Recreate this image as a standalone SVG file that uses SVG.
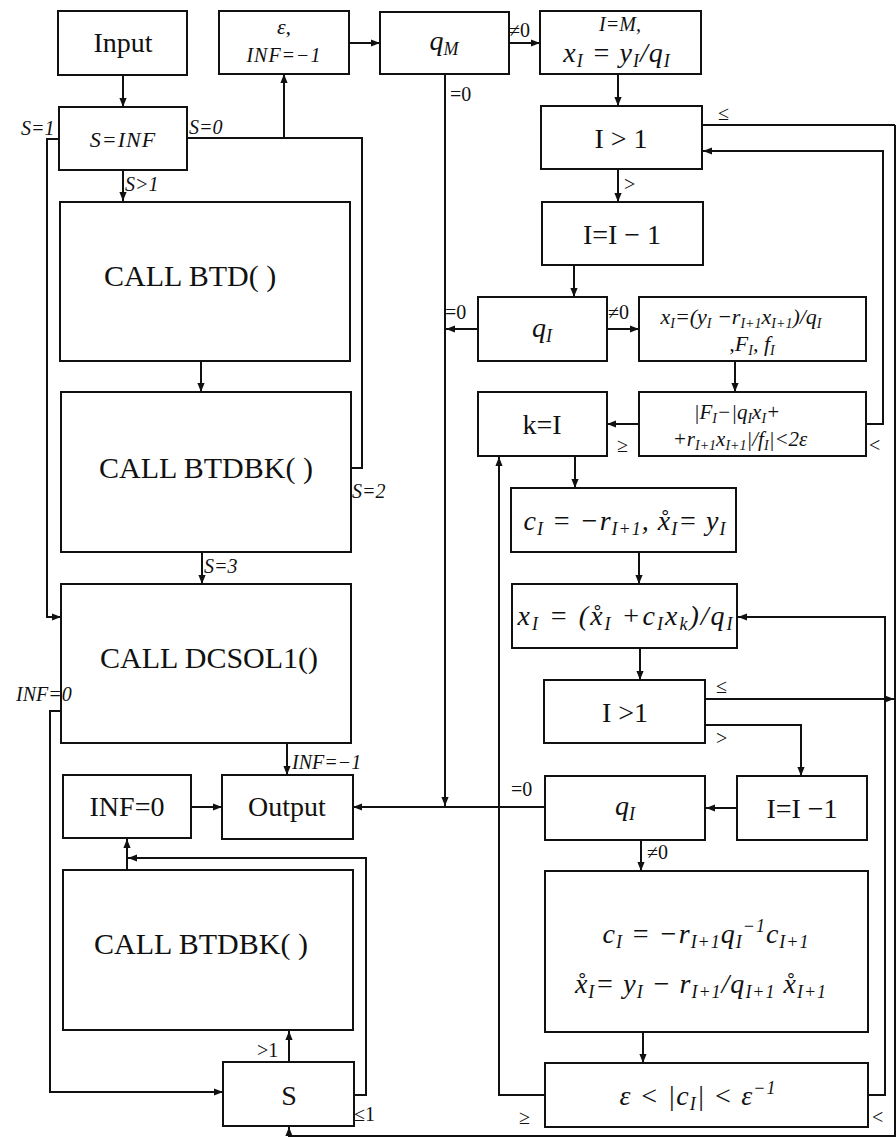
<svg xmlns="http://www.w3.org/2000/svg" width="896" height="1139" viewBox="0 0 896 1139" font-family="'Liberation Serif', 'DejaVu Serif', serif">
<defs>
<marker id="ah" viewBox="0 0 10 10" refX="10" refY="5" markerWidth="9" markerHeight="9" markerUnits="userSpaceOnUse" orient="auto">
<path d="M0,1 L10,5 L0,9 z" fill="#111"/>
</marker>
<style>
.box{fill:none;stroke:#111;stroke-width:2}
.ln{fill:none;stroke:#111;stroke-width:2}
.ar{fill:none;stroke:#111;stroke-width:2;marker-end:url(#ah)}
text{font-family:'Liberation Serif', 'DejaVu Serif', serif;fill:#111}
.t{font-size:28px;text-anchor:middle}
.big{font-size:30px}
.m{font-style:italic;text-anchor:middle}
.lb{font-size:20px;font-style:italic}
.lbn{font-size:20px}
</style>
</defs>
<rect width="896" height="1139" fill="#fff"/>

<g id="connectors">
<path class="ar" d="M123,75 V107"/>
<path class="ar" d="M123,170 V201"/>
<path class="ln" d="M187,138 H362 V468 H351"/>
<path class="ar" d="M284,138 V74"/>
<path class="ar" d="M59,139 H47 V617 H61"/>
<path class="ar" d="M201,361 V392"/>
<path class="ar" d="M202,552 V584"/>
<path class="ar" d="M287,743 V775"/>
<path class="ar" d="M61,711 H50 V1092 H223"/>
<path class="ar" d="M191,807 H222"/>
<path class="ar" d="M127,870 V839"/>
<path class="ar" d="M354,1095 H366 V858 H128"/>
<path class="ar" d="M289,1062 V1031"/>
<path class="ar" d="M895,125 V1136 H289 V1127"/>
<path class="ar" d="M349,43 H380"/>
<path class="ar" d="M509,43 H540"/>
<path class="ar" d="M445,74 V806"/>
<path class="ar" d="M545,807 H353"/>
<path class="ar" d="M478,329 H446"/>
<path class="ar" d="M618,74 V106"/>
<path class="ln" d="M702,125 H895"/>
<path class="ar" d="M618,169 V202"/>
<path class="ar" d="M866,424 H883 V151 H703"/>
<path class="ar" d="M574,265 V297"/>
<path class="ar" d="M607,329 H639"/>
<path class="ar" d="M735,361 V392"/>
<path class="ar" d="M639,424 H607"/>
<path class="ar" d="M575,456 V488"/>
<path class="ar" d="M639,552 V584"/>
<path class="ar" d="M640,648 V680"/>
<path class="ar" d="M705,725 H801 V776"/>
<path class="ar" d="M705,699 H894"/>
<path class="ar" d="M737,808 H706"/>
<path class="ar" d="M641,840 V871"/>
<path class="ar" d="M643,1032 V1063"/>
<path class="ar" d="M545,1095 H499 V457"/>
<path class="ar" d="M868,1095 H885 V617 H738"/>
</g>

<g id="connector-labels">
<text class="lb" x="21" y="135">S=1</text>
<text class="lb" x="189" y="134">S=0</text>
<text class="lb" x="125" y="191">S&gt;1</text>
<text class="lb" x="352" y="498">S=2</text>
<text class="lb" x="204" y="573">S=3</text>
<text class="lb" x="16" y="701">INF=0</text>
<text class="lb" x="292" y="769">INF=−1</text>
<text class="lbn" x="509" y="37">≠0</text>
<text class="lbn" x="450" y="101">=0</text>
<text class="lbn" x="718" y="120" font-size="22">≤</text>
<text class="lbn" x="624" y="191" font-size="22">&gt;</text>
<text class="lbn" x="445" y="319">=0</text>
<text class="lbn" x="608" y="319">≠0</text>
<text class="lbn" x="617" y="452" font-size="22">≥</text>
<text class="lbn" x="869" y="452" font-size="22">&lt;</text>
<text class="lbn" x="716" y="693" font-size="22">≤</text>
<text class="lbn" x="716" y="745" font-size="22">&gt;</text>
<text class="lbn" x="511" y="796">=0</text>
<text class="lbn" x="647" y="859">≠0</text>
<text class="lbn" x="257" y="1057">&gt;1</text>
<text class="lbn" x="354" y="1121">≤1</text>
<text class="lbn" x="519" y="1124" font-size="22">≥</text>
<text class="lbn" x="872" y="1124" font-size="22">&lt;</text>
</g>

<g id="n-input"><rect class="box" x="58" y="11" width="129" height="64"/><text class="t" x="123" y="52">Input</text></g>
<g id="n-eps"><rect class="box" x="219" y="11" width="130" height="63"/><text class="m" x="284" y="34" font-size="22">ε,</text><text class="m" x="284" y="62" font-size="20" letter-spacing="1">INF=−1</text></g>
<g id="n-qm"><rect class="box" x="380" y="12" width="129" height="62"/><text class="m" x="444" y="50" font-size="28">q<tspan font-size="18" dy="5">M</tspan></text></g>
<g id="n-im"><rect class="box" x="540" y="11" width="161" height="63"/><text class="m" x="620" y="31" font-size="20">I=M,</text><text class="m" x="617" y="62" font-size="28" letter-spacing="1">x<tspan font-size="18" dy="5">I</tspan><tspan dy="-5"> = y</tspan><tspan font-size="18" dy="5">I</tspan><tspan dy="-5">/q</tspan><tspan font-size="18" dy="5">I</tspan></text></g>
<g id="n-sinf"><rect class="box" x="59" y="107" width="128" height="63"/><text class="m" x="123" y="147" font-size="22" letter-spacing="1">S=INF</text></g>
<g id="n-igt1a"><rect class="box" x="541" y="106" width="161" height="63"/><text class="t" x="621" y="148">I &gt; 1</text></g>
<g id="n-idec1"><rect class="box" x="542" y="202" width="161" height="63"/><text class="t" x="622" y="244">I=I − 1</text></g>
<g id="n-btd"><rect class="box" x="60" y="202" width="290" height="159"/><text class="big" x="104" y="286">CALL BTD( )</text></g>
<g id="n-btdbk1"><rect class="box" x="61" y="392" width="290" height="160"/><text class="big" x="99" y="478">CALL BTDBK( )</text></g>
<g id="n-dcsol"><rect class="box" x="61" y="584" width="290" height="159"/><text class="big" x="100" y="668">CALL DCSOL1()</text></g>
<g id="n-qi1"><rect class="box" x="478" y="297" width="129" height="64"/><text class="m" x="542" y="337" font-size="28">q<tspan font-size="18" dy="5">I</tspan></text></g>
<g id="n-xi1"><rect class="box" x="639" y="297" width="227" height="64"/><text class="m" x="741" y="324" font-size="22">x<tspan font-size="14" dy="4">I</tspan><tspan dy="-4">=(y</tspan><tspan font-size="14" dy="4">I</tspan><tspan dy="-4"> −r</tspan><tspan font-size="14" dy="4">I+1</tspan><tspan dy="-4">x</tspan><tspan font-size="14" dy="4">I+1</tspan><tspan dy="-4">)/q</tspan><tspan font-size="14" dy="4">I</tspan></text><text class="m" x="752" y="351" font-size="22">,F<tspan font-size="14" dy="4">I</tspan><tspan dy="-4">, f</tspan><tspan font-size="14" dy="4">I</tspan></text></g>
<g id="n-ki"><rect class="box" x="478" y="392" width="129" height="64"/><text class="t" x="542" y="434">k=I</text></g>
<g id="n-fi"><rect class="box" x="639" y="392" width="227" height="64"/><text class="m" x="737" y="419" font-size="21">|F<tspan font-size="14" dy="4">I</tspan><tspan dy="-4">−|q</tspan><tspan font-size="14" dy="4">I</tspan><tspan dy="-4">x</tspan><tspan font-size="14" dy="4">I</tspan><tspan dy="-4">+</tspan></text><text class="m" x="740" y="446" font-size="21">+r<tspan font-size="14" dy="4">I+1</tspan><tspan dy="-4">x</tspan><tspan font-size="14" dy="4">I+1</tspan><tspan dy="-4">|/f</tspan><tspan font-size="14" dy="4">I</tspan><tspan dy="-4">|&lt;2ε</tspan></text></g>
<g id="n-ci1"><rect class="box" x="511" y="488" width="225" height="64"/><text class="m" x="625" y="530" font-size="28" letter-spacing="1">c<tspan font-size="18" dy="5">I</tspan><tspan dy="-5"> = −r</tspan><tspan font-size="18" dy="5">I+1</tspan><tspan dy="-5">, x̊</tspan><tspan font-size="18" dy="5">I</tspan><tspan dy="-5">= y</tspan><tspan font-size="18" dy="5">I</tspan></text></g>
<g id="n-xi2"><rect class="box" x="512" y="584" width="225" height="64"/><text class="m" x="626" y="625" font-size="28" letter-spacing="2">x<tspan font-size="18" dy="5">I</tspan><tspan dy="-5"> = (x̊</tspan><tspan font-size="18" dy="5">I</tspan><tspan dy="-5"> +c</tspan><tspan font-size="18" dy="5">I</tspan><tspan dy="-5">x</tspan><tspan font-size="18" dy="5">k</tspan><tspan dy="-5">)/q</tspan><tspan font-size="18" dy="5">I</tspan></text></g>
<g id="n-igt1b"><rect class="box" x="544" y="680" width="161" height="63"/><text class="t" x="625" y="722">I &gt;1</text></g>
<g id="n-idec2"><rect class="box" x="737" y="776" width="130" height="64"/><text class="t" x="802" y="818">I=I −1</text></g>
<g id="n-qi2"><rect class="box" x="545" y="776" width="160" height="64"/><text class="m" x="625" y="815" font-size="28">q<tspan font-size="18" dy="5">I</tspan></text></g>
<g id="n-output"><rect class="box" x="222" y="775" width="131" height="64"/><text class="t" x="287" y="816">Output</text></g>
<g id="n-inf0"><rect class="box" x="63" y="775" width="128" height="63"/><text class="t" x="127" y="816">INF=0</text></g>
<g id="n-btdbk2"><rect class="box" x="63" y="870" width="290" height="160"/><text class="big" x="94" y="954">CALL BTDBK( )</text></g>
<g id="n-s"><rect class="box" x="223" y="1062" width="131" height="64"/><text class="t" x="289" y="1105">S</text></g>
<g id="n-ci2"><rect class="box" x="545" y="871" width="323" height="161"/><text class="m" x="706" y="943" font-size="28" letter-spacing="1">c<tspan font-size="18" dy="5">I</tspan><tspan dy="-5"> = −r</tspan><tspan font-size="18" dy="5">I+1</tspan><tspan dy="-5">q</tspan><tspan font-size="18" dy="5">I</tspan><tspan font-size="18" dy="-16">−1</tspan><tspan dy="11">c</tspan><tspan font-size="18" dy="5">I+1</tspan></text><text class="m" x="701" y="993" font-size="28" letter-spacing="1">x̊<tspan font-size="18" dy="5">I</tspan><tspan dy="-5">= y</tspan><tspan font-size="18" dy="5">I</tspan><tspan dy="-5"> − r</tspan><tspan font-size="18" dy="5">I+1</tspan><tspan dy="-5">/q</tspan><tspan font-size="18" dy="5">I+1</tspan><tspan dy="-5"> x̊</tspan><tspan font-size="18" dy="5">I+1</tspan></text></g>
<g id="n-eps2"><rect class="box" x="545" y="1063" width="323" height="64"/><text class="m" x="698" y="1105" font-size="28" letter-spacing="1">ε &lt; |c<tspan font-size="18" dy="5">I</tspan><tspan dy="-5">| &lt; ε</tspan><tspan font-size="18" dy="-11">−1</tspan></text></g>
</svg>
